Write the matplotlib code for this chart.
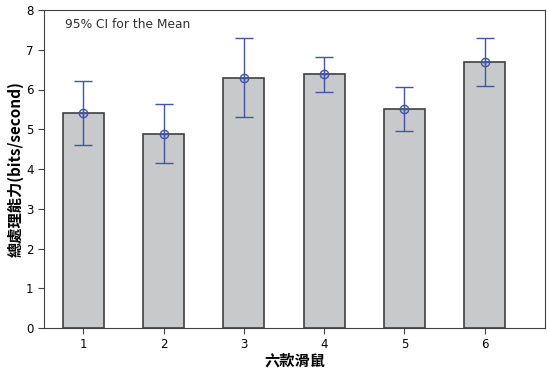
import matplotlib
matplotlib.use("Agg")
import matplotlib.pyplot as plt
import numpy as np

plt.rcParams['font.family'] = ['DejaVu Sans', 'Noto Sans CJK TC']

mice = [1, 2, 3, 4, 5, 6]
means = [5.42, 4.88, 6.30, 6.38, 5.52, 6.70]
ci_upper = [6.21, 5.63, 7.30, 6.83, 6.07, 7.30]
ci_lower = [4.60, 4.14, 5.30, 5.94, 4.95, 6.09]

fig = plt.figure(figsize=(5.47, 3.72), dpi=100)
ax = fig.add_axes([44 / 547, 44 / 372, 501 / 547, 318 / 372])

x = np.array(mice)
ax.bar(x, means, width=0.51, color="#c8c9cb", edgecolor="#404040", linewidth=1.2, zorder=2)

yerr = [np.array(means) - np.array(ci_lower), np.array(ci_upper) - np.array(means)]
blue = "#3f55a8"
ax.errorbar(x, means, yerr=yerr, fmt="none", ecolor=blue, elinewidth=1,
            capsize=6.8, capthick=1, zorder=3)
ax.plot(x, means, "o", mfc="none", mec=blue, ms=6, mew=1, zorder=4)
ax.plot(x, means, "+", color=blue, ms=6, mew=1, zorder=4)

ax.set_xlim(0.51, 6.75)
ax.set_ylim(0, 8)
ax.set_xticks(x)
ax.set_yticks(range(0, 9))
ax.tick_params(labelsize=8.5, length=4, width=0.8, color="#404040")
for s in ax.spines.values():
    s.set_color("#404040")

ax.text(0.042, 0.975, "95% CI for the Mean", transform=ax.transAxes, fontsize=8.8,
        va="top", ha="left", color="#303030")

ax.set_xlabel("六款滑鼠", fontsize=11, fontweight="bold",
              family=['Noto Sans CJK TC', 'DejaVu Sans'], labelpad=1)
ax.set_ylabel("總處理能力(bits/second)", fontsize=11, fontweight="bold",
              family=['Noto Sans CJK TC', 'DejaVu Sans'], labelpad=1.5)

fig.savefig("out.png", dpi=100)
plt.close()
